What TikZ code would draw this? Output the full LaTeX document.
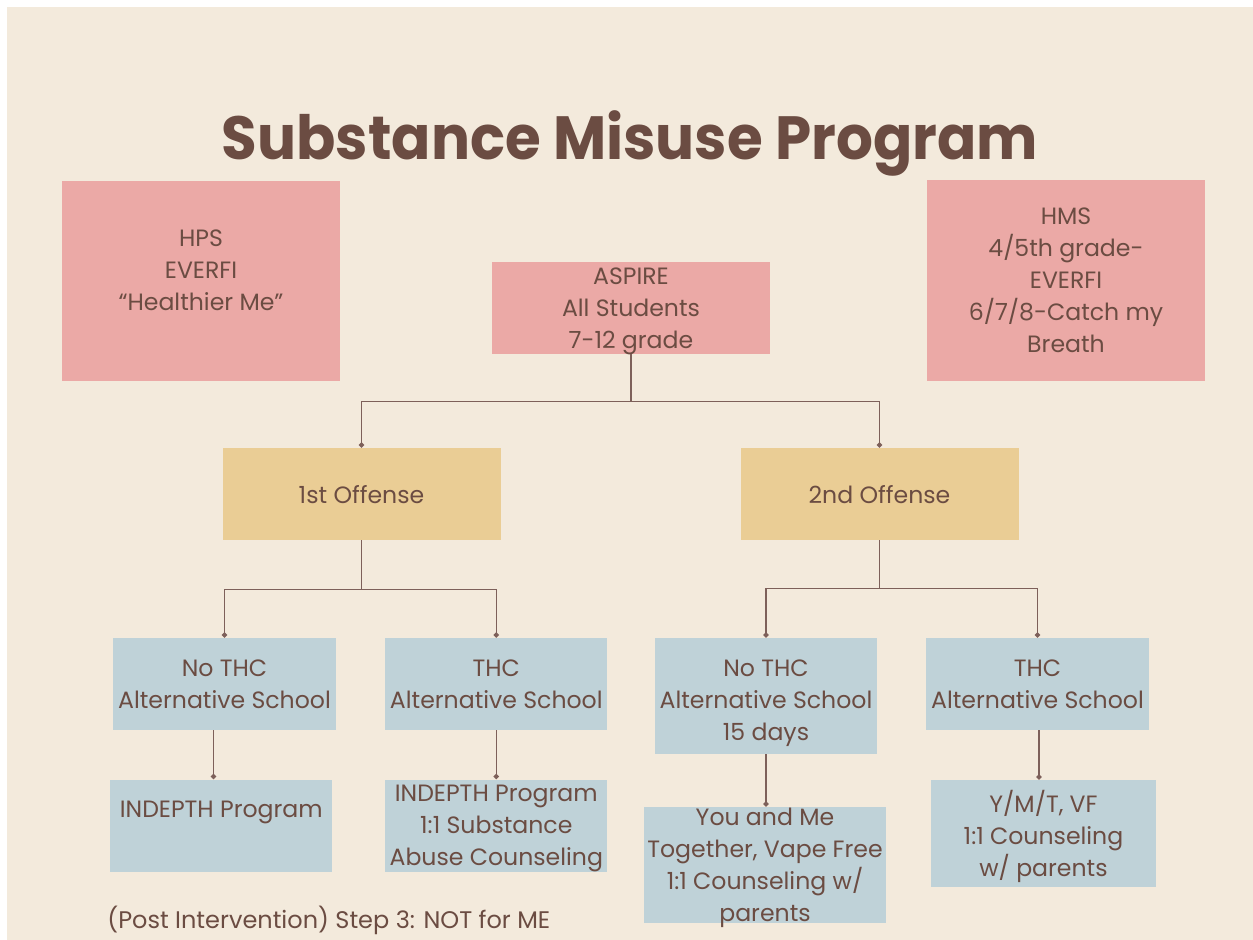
\documentclass[tikz,border=0pt]{standalone}
\usepackage{fontspec}
\setmainfont{Poppins}
\newfontfamily\titlefont{Poppins}[FakeStretch=0.95]
\usetikzlibrary{arrows.meta}

\definecolor{paper}{HTML}{F3EADC}
\definecolor{rose}{HTML}{EBA9A6}
\definecolor{sand}{HTML}{EACD95}
\definecolor{mist}{HTML}{BFD2D8}
\definecolor{cocoa}{HTML}{6B4C42}
\definecolor{wire}{HTML}{7D605A}

\begin{document}
\begin{tikzpicture}[x=0.5pt,y=-0.5pt,
	boxtext/.style={align=center,text=cocoa,font=\fontsize{11.8}{16}\selectfont,text depth=0pt},
	box/.style={boxtext,minimum width=139pt,minimum height=46pt,inner xsep=0pt,inner ysep=-3pt},
	pinkbox/.style={box,fill=rose},
	yellowbox/.style={box,fill=sand},
	bluebox/.style={box,fill=mist,minimum width=111pt},
	link/.style={wire,line width=0.75pt},
	dotlink/.style={link,-{Circle[length=2.6pt]}}]
		\fill[white] (0,0) rectangle (1253,940);
		\fill[paper] (7,7) rectangle (1253,940);
		\useasboundingbox (0,0) rectangle (1253,940);
		\node[anchor=base,text=cocoa,font=\fontsize{30.5}{36}\titlefont\bfseries] (title) at (630,160) {Substance Misuse Program};
		\node[pinkbox,minimum height=100pt,label={[boxtext,yshift=5.5pt]center:{HPS\\EVERFI\\“Healthier Me”}}] (hps) at (201,281) {};
		\node[pinkbox,minimum height=100.5pt] (hms) at (1066,280.5) {HMS\\4/5th grade-\\EVERFI\\6/7/8-Catch my\\Breath};
		\node[pinkbox] (aspire) at (631,308) {ASPIRE\\All Students\\7-12 grade};
		\node[yellowbox] (off1) at (361.5,494) {1st Offense};
		\node[yellowbox] (off2) at (879.5,494) {2nd Offense};
		\node[bluebox,minimum width=111.5pt] (nothc1) at (224.5,684) {No THC\\Alternative School};
		\node[bluebox] (thc1) at (496.3,684) {THC\\Alternative School};
		\node[bluebox,minimum height=58pt,label={[boxtext,yshift=-2pt]center:{No THC\\Alternative School\\15 days}}] (nothc2) at (766,696) {};
		\node[bluebox,minimum width=111.5pt] (thc2) at (1037.5,684) {THC\\Alternative School};
		\node[bluebox,label={[boxtext,yshift=8.25pt]center:INDEPTH Program}] (indepth1) at (221.3,825.5) {};
		\node[bluebox] (indepth2) at (496.3,825.5) {INDEPTH Program\\1:1 Substance\\Abuse Counseling};
		\node[bluebox,minimum width=121pt,minimum height=58pt] (youme) at (765,865) {You and Me\\Together, Vape Free\\1:1 Counseling w/\\parents};
		\node[bluebox,minimum width=112.5pt,minimum height=53.5pt] (ymt) at (1043.5,833.5) {Y/M/T, VF\\1:1 Counseling\\w/ parents};
		\node[boxtext,anchor=west,inner xsep=0pt,font=\fontsize{12}{16}\selectfont] (footer) at (107,917) {(Post Intervention) Step 3: NOT for ME};
		\draw[dotlink] (aspire.south) -- ++(0,47) -| (off1.north);
		\draw[dotlink] (aspire.south) -- ++(0,47) -| (off2.north);
		\draw[dotlink] (off1.south) -- ++(0,49) -| (nothc1.north);
		\draw[dotlink] (off1.south) -- ++(0,49) -| (thc1.north);
		\draw[dotlink] (off2.south) -- ++(0,48) -| (nothc2.north);
		\draw[dotlink] (off2.south) -- ++(0,48) -| (thc2.north);
		\coordinate (drop1) at ([xshift=-5.5pt]nothc1.south);
		\draw[dotlink] (drop1) -- (drop1 |- indepth1.north);
		\draw[dotlink] (thc1.south) -- (indepth2.north);
		\draw[dotlink] (nothc2.south) -- (nothc2.south |- youme.north);
		\coordinate (drop4) at ([xshift=0.75pt]thc2.south);
		\draw[dotlink] (drop4) -- (drop4 |- ymt.north);
	\end{tikzpicture}
\end{document}
